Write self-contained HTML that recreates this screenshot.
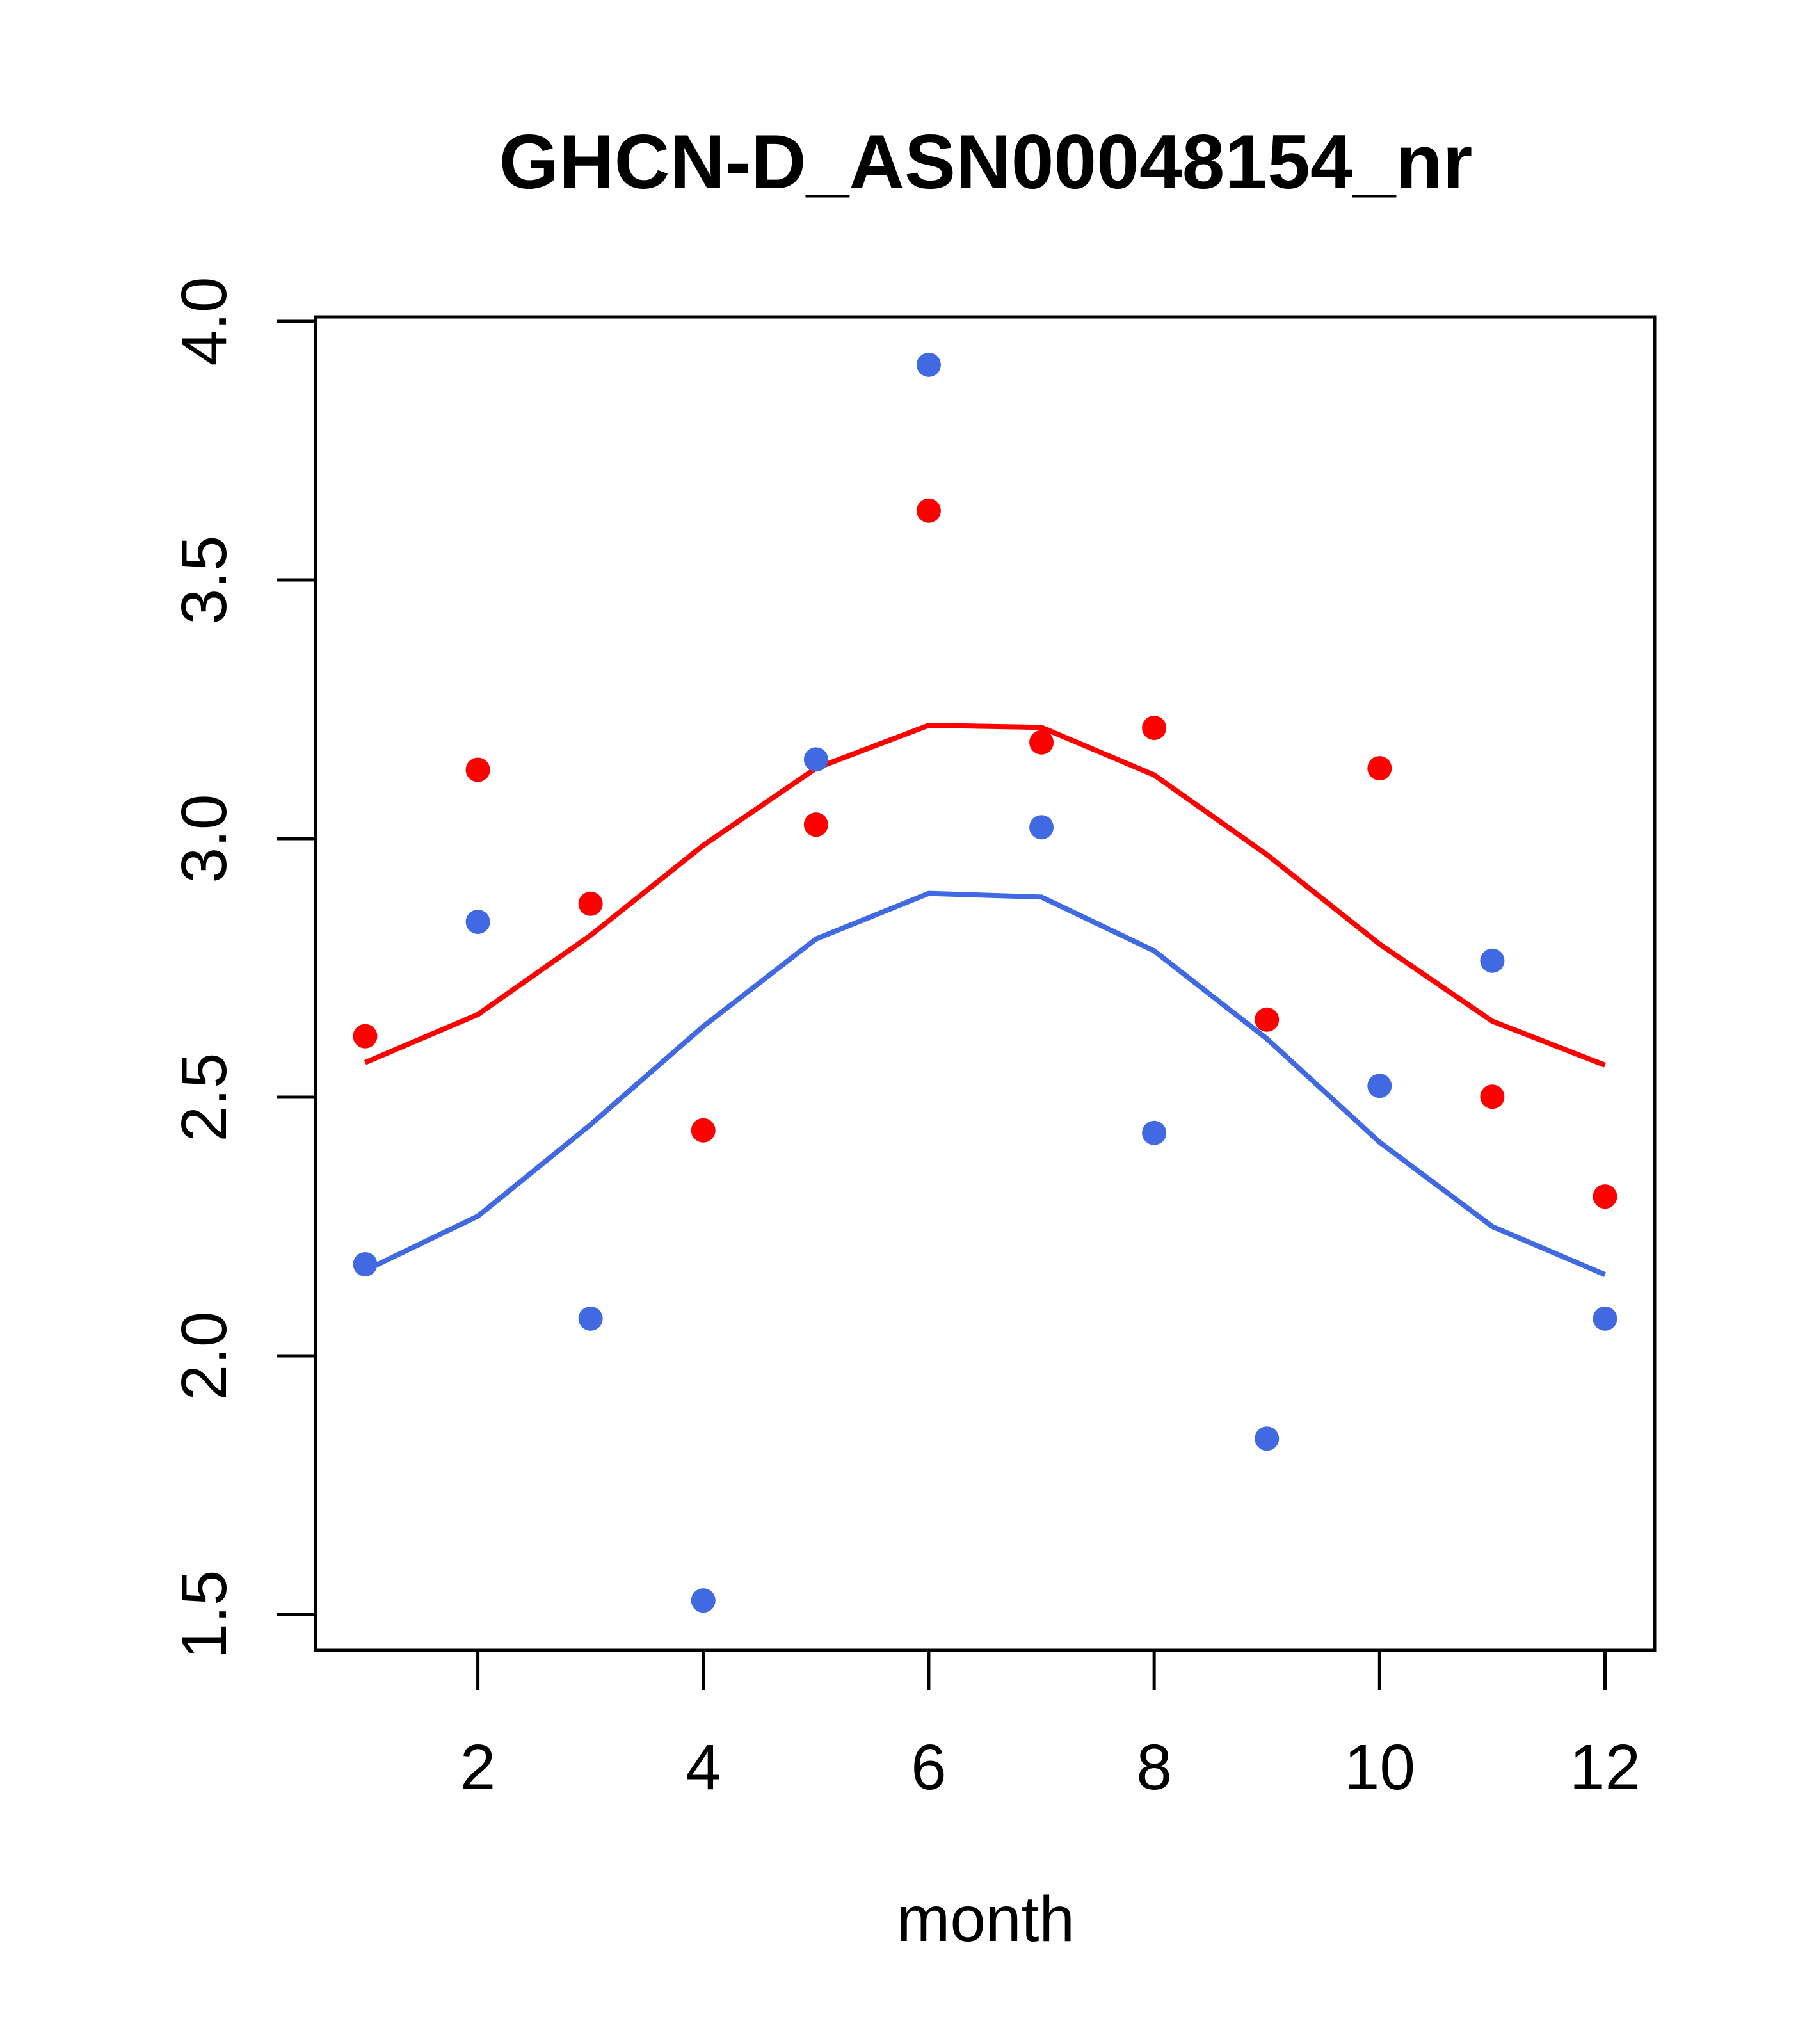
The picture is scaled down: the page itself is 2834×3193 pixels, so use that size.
<!DOCTYPE html>
<html><head><meta charset="utf-8"><style>html,body{margin:0;padding:0;background:#fff}</style></head>
<body>
<svg id="chart" width="2834" height="3188" xmlns="http://www.w3.org/2000/svg" font-family="Liberation Sans, sans-serif">
<g transform="translate(3,3)">
<text x="1537" y="291" font-size="120" font-weight="bold" text-anchor="middle">GHCN-D_ASN00048154_nr</text>
<rect x="490" y="492" width="2092" height="2083" fill="none" stroke="#000" stroke-width="5"/>
<text x="1537" y="3029" font-size="100" text-anchor="middle">month</text>
<g id="marks"></g>
</g>
</svg>
<script>
const months=[1,2,3,4,5,6,7,8,9,10,11,12];
const bluePoints=[2.177,2.839,2.072,1.527,3.153,3.916,3.022,2.431,1.84,2.522,2.764,2.072];
const redPoints=[2.618,3.133,2.874,2.436,3.027,3.634,3.186,3.214,2.65,3.136,2.501,2.308];
const redLine=[2.567,2.66,2.813,2.987,3.136,3.219,3.215,3.123,2.969,2.796,2.647,2.562];
const blueLine=[2.165,2.27,2.447,2.637,2.806,2.894,2.887,2.783,2.613,2.413,2.25,2.157];
const xTicks=[2,4,6,8,10,12];
const yTicks=[1.5,2.0,2.5,3.0,3.5,4.0];
const yTickLabels=["1.5","2.0","2.5","3.0","3.5","4.0"];
const NS='http://www.w3.org/2000/svg';
const g=document.getElementById('marks');
function X(m){return 490+(m-0.56)/11.88*2092;}
function Y(v){return 499+(4-v)*808;}
function mk(t,a){const e=document.createElementNS(NS,t);for(const k in a)e.setAttribute(k,a[k]);g.appendChild(e);return e;}
xTicks.forEach(t=>{
 const l=mk('line',{x1:X(t),x2:X(t),y1:2575,y2:2637,stroke:'#000','stroke-width':5});
 
 
 const tx=mk('text',{x:X(t),y:2792,'font-size':100,'text-anchor':'middle'});
 tx.textContent=t;
 
 
});
yTicks.forEach((t,i)=>{
 const l=mk('line',{x1:430,x2:490,y1:Y(t),y2:Y(t),stroke:'#000','stroke-width':5});
 
 
 const tx=mk('text',{x:0,y:0,'font-size':100,'text-anchor':'middle',transform:`translate(350,${Y(t)}) rotate(-90)`});
 tx.textContent=yTickLabels[i];
 
 
});
function line(arr,color,name){
 const p=mk('polyline',{points:arr.map((v,i)=>X(months[i])+','+Y(v)).join(' '),fill:'none',stroke:color,'stroke-width':8});
 
 
}
function pts(arr,color,name){
 arr.forEach((v,i)=>{
  const c=mk('circle',{cx:X(months[i]),cy:Y(v),r:19,fill:color});
  
  
 });
}
line(redLine,'#ff0000','red-line');
line(blueLine,'#4169e1','blue-line');
pts(redPoints,'#ff0000','red-point');
pts(bluePoints,'#4169e1','blue-point');
</script>
</body></html>
